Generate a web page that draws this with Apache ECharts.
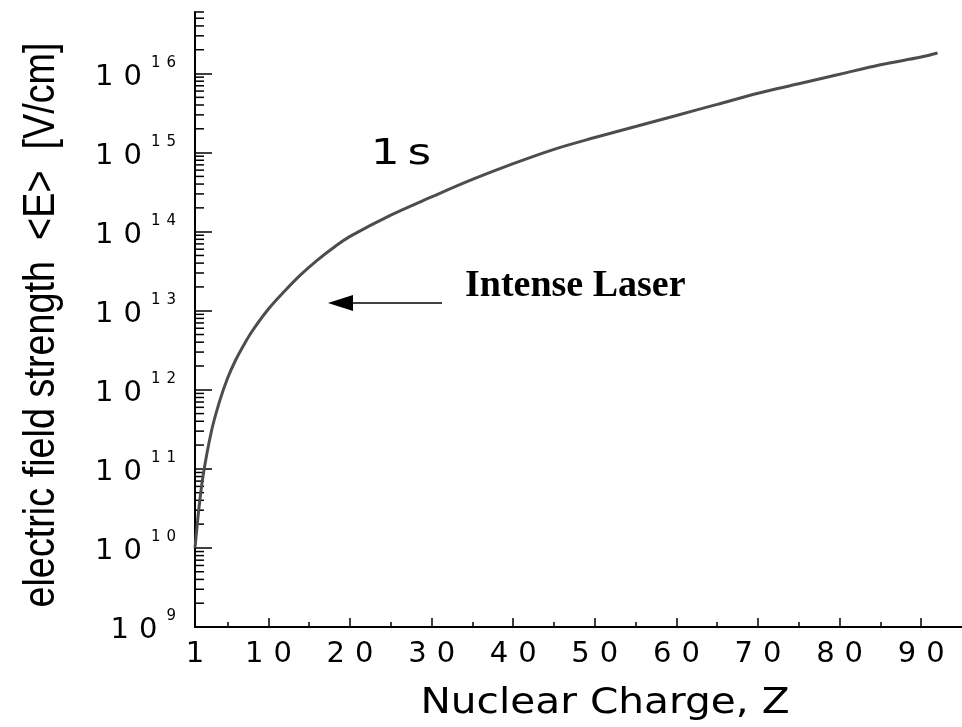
<!DOCTYPE html>
<html><head><meta charset="utf-8">
<script src="https://cdn.jsdelivr.net/npm/echarts@6/dist/echarts.min.js"></script>
<style>html,body{margin:0;padding:0;background:#fff}#c{width:962px;height:727px}</style>
</head><body><div id="c"></div>
<script>
// Nuclear charge Z
const Z = [1, 1.5, 2, 3, 4, 5, 6, 7, 8, 10, 12, 14, 16, 18, 20, 25, 30, 35, 40, 45, 50, 55, 60, 65, 70, 75, 80, 85, 90, 92];
// 1s electric field strength <E> [V/cm]
const E = [1.0e10, 3.31e10, 8.32e10, 2.95e11, 7.08e11, 1.41e12, 2.40e12, 3.72e12, 5.50e12, 1.05e13,
           1.78e13, 2.88e13, 4.37e13, 6.31e13, 8.71e13, 1.62e14, 2.75e14, 4.57e14, 7.24e14, 1.10e15,
           1.55e15, 2.14e15, 2.95e15, 4.07e15, 5.62e15, 7.41e15, 9.77e15, 1.29e16, 1.62e16, 1.82e16];
const xLabels = [1, 10, 20, 30, 40, 50, 60, 70, 80, 90];
const xMajorTicks = [10, 20, 30, 40, 50, 60, 70, 80, 90];
const xMinorTicks = [5, 15, 25, 35, 45, 55, 65, 75, 85];
const yDecades = [1e9, 1e10, 1e11, 1e12, 1e13, 1e14, 1e15, 1e16];
const yMultipliers = [2, 3, 4, 5, 6, 7, 8, 9];
const yMinorTicks = [];
yDecades.forEach(d => yMultipliers.forEach(m => { if (d * m <= 6e16) yMinorTicks.push(d * m); }));

const chart = echarts.init(document.getElementById('c'));
const FONT = 'DejaVu Sans';

function yLabel(v) {
  const e = String(Math.round(Math.log10(v)));
  return '{a|1}{d|0}' + e.split('').map(c => '{s|' + c + '}').join('');
}
function xLabel(v) {
  return String(v).split('').map(c => '{d|' + c + '}').join('');
}

chart.setOption({
  animation: false,
  backgroundColor: '#fff',
  grid: { left: 195, top: 12, bottom: 100, right: -6, containLabel: false },
  xAxis: [{
    type: 'value', min: 1, max: 95,
    axisLine: { show: true, lineStyle: { color: '#000', width: 2 } },
    axisTick: { show: true, inside: true, length: 9, customValues: xMajorTicks, lineStyle: { color: '#000', width: 1.5 } },
    axisLabel: {
      show: true, customValues: xLabels, margin: 13, color: '#000',
      formatter: xLabel,
      rich: { d: { fontFamily: FONT, fontSize: 29, color: '#000', padding: [0, 5, 0, 5] } }
    },
    splitLine: { show: false }
  }, {
    type: 'value', min: 1, max: 95, position: 'bottom',
    axisLine: { show: false },
    axisTick: { show: true, inside: true, length: 5, customValues: xMinorTicks, lineStyle: { color: '#000', width: 1.5 } },
    axisLabel: { show: false },
    splitLine: { show: false }
  }],
  yAxis: {
    type: 'log', logBase: 10, min: 1e9, max: 6e16,
    axisLine: { show: true, lineStyle: { color: '#000', width: 2 } },
    axisTick: { show: true, inside: true, length: 17, customValues: yDecades, lineStyle: { color: '#000', width: 1.5 } },
    axisLabel: {
      show: true, customValues: yDecades, margin: 16, color: '#000',
      formatter: yLabel,
      rich: {
        a: { fontFamily: FONT, fontSize: 29, color: '#000', padding: [0, 10, 0, 0], lineHeight: 36, verticalAlign: 'bottom' },
        d: { fontFamily: FONT, fontSize: 29, color: '#000', padding: [0, 6, 0, 0], lineHeight: 36, verticalAlign: 'bottom' },
        s: { fontFamily: FONT, fontSize: 15, color: '#000', padding: [0, 3, 0, 3], lineHeight: 12, verticalAlign: 'top' }
      }
    },
    splitLine: { show: false }
  },
  series: [{
    type: 'line',
    data: Z.map((z, i) => [z, E[i]]),
    smooth: 0.35,
    showSymbol: false,
    lineStyle: { color: '#4d4d4d', width: 3 },
    z: 5
  }, {
    type: 'custom',
    silent: true,
    clip: false,
    data: yMinorTicks.map(v => [1, v]),
    renderItem: function (params, api) {
      const p = api.coord([api.value(0), api.value(1)]);
      return { type: 'line', shape: { x1: p[0], y1: p[1], x2: p[0] + 9, y2: p[1] }, style: { stroke: '#000', lineWidth: 1.5 } };
    },
    z: 3
  }],
  graphic: [
    { type: 'text', x: 42, y: 325, rotation: Math.PI / 2, scaleX: 0.84,
      style: { text: 'electric field strength  <E>  [V/cm]', fontFamily: 'Liberation Sans', fontSize: 45, fill: '#000', align: 'center', verticalAlign: 'middle' } },
    { type: 'text', x: 605, y: 704, scaleX: 1.13,
      style: { text: 'Nuclear Charge, Z', fontFamily: FONT, fontSize: 36, fill: '#000', align: 'center', verticalAlign: 'middle' } },
    { type: 'text', x: 401, y: 155, scaleX: 1.3,
      style: { text: '{a|1}{b|s}', fill: '#000', align: 'center', verticalAlign: 'middle',
        rich: { a: { fontFamily: FONT, fontSize: 35, padding: [0, 6, 0, 0] }, b: { fontFamily: FONT, fontSize: 35 } } } },
    { type: 'text', x: 465, y: 286,
      style: { text: 'Intense Laser', fontFamily: 'Liberation Serif', fontWeight: 'bold', fontSize: 38, fill: '#000', align: 'left', verticalAlign: 'middle' } },
    { type: 'line', shape: { x1: 442, y1: 303, x2: 350, y2: 303 }, style: { stroke: '#000', lineWidth: 1.5 } },
    { type: 'polygon', shape: { points: [[328, 303], [353, 295], [353, 311]] }, style: { fill: '#000' } }
  ]
});
</script>
</body></html>
